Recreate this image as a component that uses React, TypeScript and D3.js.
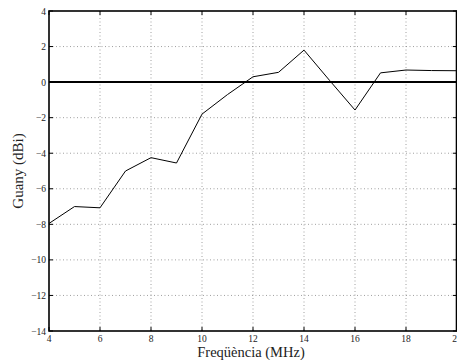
import { useEffect, useRef } from 'react';
import * as d3 from 'd3';

const freqs = [4, 5, 6, 7, 8, 9, 10, 11, 12, 13, 14, 15, 16, 17, 18, 19, 20];
const gain = [-7.95, -7.0, -7.07, -5.0, -4.25, -4.55, -1.8, -0.7, 0.3, 0.55, 1.8, 0.1, -1.57, 0.52, 0.68, 0.65, 0.64];
const xTicks = [4, 6, 8, 10, 12, 14, 16, 18, 20];
const yTicks = [4, 2, 0, -2, -4, -6, -8, -10, -12, -14];

function App() {
  const svgRef = useRef<SVGSVGElement>(null);

  useEffect(() => {
    if (!svgRef.current) return;
    const svg = d3.select(svgRef.current);
    svg.selectAll('*').remove();

    const width = 457;
    const height = 360;
    const left = 49, right = 457, top = 11, bottom = 331;
    const font = "'Liberation Serif', 'Times New Roman', 'DejaVu Serif', serif";

    const x = d3.scaleLinear().domain([4, 20]).range([left, right]);
    const y = d3.scaleLinear().domain([-14, 4]).range([bottom, top]);

    svg.attr('width', width).attr('height', height);
    svg.append('rect').attr('width', width).attr('height', height).attr('fill', '#fff');

    // dotted grid
    const grid = svg.append('g')
      .attr('stroke', '#888')
      .attr('stroke-width', 0.8)
      .attr('stroke-dasharray', '1 2.5');
    grid.selectAll('.gx')
      .data(xTicks.slice(1, -1))
      .enter()
      .append('line')
      .attr('x1', d => x(d)).attr('x2', d => x(d))
      .attr('y1', top).attr('y2', bottom);
    grid.selectAll('.gy')
      .data(yTicks.slice(1, -1))
      .enter()
      .append('line')
      .attr('x1', left).attr('x2', right)
      .attr('y1', d => y(d)).attr('y2', d => y(d));

    // zero reference line
    svg.append('line')
      .attr('x1', left).attr('x2', right)
      .attr('y1', y(0)).attr('y2', y(0))
      .attr('stroke', '#000')
      .attr('stroke-width', 2);

    // data line
    const line = d3.line<number>()
      .x((_, i) => x(freqs[i]))
      .y(d => y(d));
    svg.append('path')
      .datum(gain)
      .attr('d', line)
      .attr('fill', 'none')
      .attr('stroke', '#000')
      .attr('stroke-width', 1);

    // axes box
    svg.append('rect')
      .attr('x', left).attr('y', top)
      .attr('width', right - left - 0.5).attr('height', bottom - top)
      .attr('fill', 'none')
      .attr('stroke', '#000')
      .attr('stroke-width', 1.6);

    // inward ticks on all sides
    const ticks = svg.append('g').attr('stroke', '#000').attr('stroke-width', 1);
    xTicks.forEach(t => {
      ticks.append('line').attr('x1', x(t)).attr('x2', x(t)).attr('y1', bottom).attr('y2', bottom - 4);
      ticks.append('line').attr('x1', x(t)).attr('x2', x(t)).attr('y1', top).attr('y2', top + 4);
    });
    yTicks.forEach(t => {
      ticks.append('line').attr('x1', left).attr('x2', left + 4).attr('y1', y(t)).attr('y2', y(t));
      ticks.append('line').attr('x1', right - 4).attr('x2', right).attr('y1', y(t)).attr('y2', y(t));
    });

    // tick labels
    svg.append('g')
      .selectAll('text')
      .data(xTicks)
      .enter()
      .append('text')
      .attr('x', d => x(d))
      .attr('y', 342)
      .attr('text-anchor', 'middle')
      .style('font-family', font)
      .style('font-size', '9.5px')
      .attr('fill', '#222')
      .text(d => String(d));

    svg.append('g')
      .selectAll('text')
      .data(yTicks)
      .enter()
      .append('text')
      .attr('x', left - 3)
      .attr('y', d => y(d) + 3.5)
      .attr('text-anchor', 'end')
      .style('font-family', font)
      .style('font-size', '9.5px')
      .attr('fill', '#222')
      .text(d => (d < 0 ? '\u2212' + Math.abs(d) : String(d)));

    // axis titles
    svg.append('text')
      .attr('x', (left + right) / 2 - 2)
      .attr('y', 357)
      .attr('text-anchor', 'middle')
      .style('font-family', font)
      .style('font-size', '14.5px')
      .attr('fill', '#222')
      .text('Freqüència (MHz)');

    svg.append('text')
      .attr('transform', `translate(23, ${(top + bottom) / 2}) rotate(-90)`)
      .attr('text-anchor', 'middle')
      .style('font-family', font)
      .style('font-size', '15px')
      .attr('fill', '#222')
      .text('Guany (dBi)');
  }, []);

  return (
    <svg ref={svgRef} style={{ position: 'absolute', left: 0, top: 0, display: 'block' }} />
  );
}

export default App;
